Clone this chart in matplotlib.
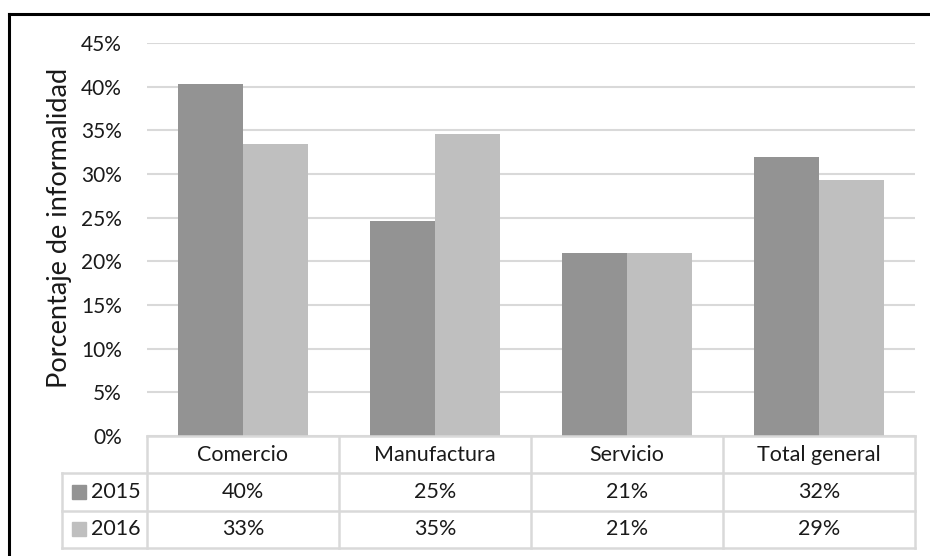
import matplotlib
matplotlib.use("Agg")
import matplotlib.pyplot as plt
from matplotlib.lines import Line2D

plt.rcParams["font.family"] = ["Lato", "DejaVu Sans"]

# ============ 数据 ============
categories = ["Comercio", "Manufactura", "Servicio", "Total general"]
years = ["2015", "2016"]
vals_2015 = [0.403, 0.246, 0.210, 0.320]
vals_2016 = [0.334, 0.346, 0.209, 0.293]
colors = ["#939393", "#bfbfbf"]
yticks = [0.0, 0.05, 0.10, 0.15, 0.20, 0.25, 0.30, 0.35, 0.40, 0.45]

W, H = 930, 556
fig = plt.figure(figsize=(W / 100, H / 100), dpi=100)
TXT = "#1a1a1a"
FS_TICK, FS_TAB, FS_LAB = 15, 15.5, 19.5

# plot area in pixels
PL, PR, PT, PB = 147, 915, 43, 436
ax = fig.add_axes([PL / W, 1 - PB / H, (PR - PL) / W, (PB - PT) / H])
n = len(categories)
xs = list(range(n))
bw = 0.338
ax.bar([x - bw / 2 for x in xs], vals_2015, width=bw, color=colors[0], zorder=3)
ax.bar([x + bw / 2 for x in xs], vals_2016, width=bw, color=colors[1], zorder=3)
ax.set_xlim(-0.5, n - 0.5)
ax.set_ylim(0, 0.45)
ax.set_yticks(yticks)
ax.set_yticklabels([f"{round(v * 100)}%" for v in yticks], fontsize=FS_TICK, color=TXT)
ax.set_xticks([])
ax.tick_params(axis="y", length=0, pad=18)  # 18pt = 25px
ax.grid(axis="y", color="#d9d9d9", linewidth=1.5, zorder=0)
for s in ax.spines.values():
    s.set_visible(False)

# y 轴标题 (按像素定位)
fig.text(60 / W, 1 - 228 / H, "Porcentaje de informalidad", rotation=90,
         ha="center", va="center", fontsize=FS_LAB, color=TXT)

# ============ 数据表 ============
TL, TB = 62, 548
unit = (PR - PL) / n
tax = fig.add_axes([TL / W, 1 - TB / H, (PR - TL) / W, (TB - PB) / H])
left = -0.5 - (PL - TL) / unit
tax.set_xlim(left, n - 0.5)
tax.set_ylim(3, 0)
tax.axis("off")
lc = dict(color="#d9d9d9", linewidth=1.8, solid_capstyle="projecting")
# horizontals
tax.plot([-0.5, n - 0.5], [0, 0], clip_on=False, **lc)
for r in (1, 2, 3):
    tax.plot([left, n - 0.5], [r, r], clip_on=False, **lc)
# verticals
for c in range(n + 1):
    tax.plot([c - 0.5, c - 0.5], [0, 3], clip_on=False, **lc)
tax.plot([left, left], [1, 3], clip_on=False, **lc)

for i, cat in enumerate(categories):
    tax.text(i, 0.5, cat, ha="center", va="center", fontsize=FS_TAB, color=TXT)
    tax.text(i, 1.5, f"{round(vals_2015[i] * 100)}%", ha="center", va="center",
             fontsize=FS_TAB, color=TXT)
    tax.text(i, 2.5, f"{round(vals_2016[i] * 100)}%", ha="center", va="center",
             fontsize=FS_TAB, color=TXT)

px2x = lambda p: -0.5 + (p - PL) / unit
for r, (yr, col) in enumerate(zip(years, colors)):
    tax.plot([px2x(78.5)], [r + 1.5], marker="s", markersize=9.5, color=col,
             linestyle="none", clip_on=False)
    tax.text(px2x(91), r + 1.5, yr, ha="left", va="center", fontsize=FS_TAB, color=TXT)

# 外框 (左 + 上)
fig.add_artist(Line2D([9 / W, 9 / W], [0, 1 - 14 / H], color="black", linewidth=2.2,
                      transform=fig.transFigure))
fig.add_artist(Line2D([9 / W, 1], [1 - 14 / H, 1 - 14 / H], color="black", linewidth=2.2,
                      transform=fig.transFigure))

fig.savefig("out.png", dpi=100, facecolor="white")
